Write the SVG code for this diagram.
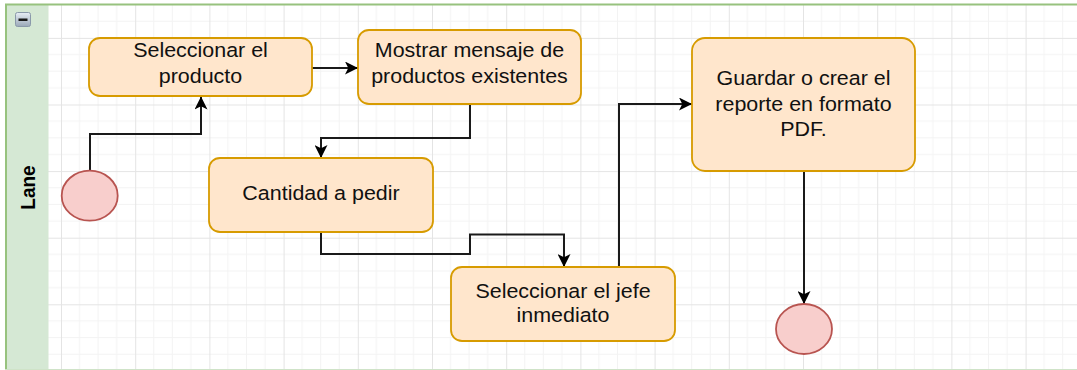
<svg xmlns="http://www.w3.org/2000/svg" width="1077" height="370" viewBox="0 0 1077 370">
<style>
.node{fill:#ffe6cc;stroke:#d79b00;stroke-width:1.8}
.term{fill:#f8cecc;stroke:#b85450;stroke-width:1.8}
.lbl{font-family:"Liberation Sans",Arial,sans-serif;font-size:19.5px;fill:#111;text-anchor:middle}
.edge{fill:none;stroke:#1a1a1a;stroke-width:2}
</style>
<defs>
<pattern id="grid" patternUnits="userSpaceOnUse" x="61" y="37.9" width="74.2" height="66.6">
<g stroke="#f3f3f3" stroke-width="1">
<line x1="18.55" y1="0" x2="18.55" y2="66.6"/>
<line x1="37.1" y1="0" x2="37.1" y2="66.6"/>
<line x1="55.65" y1="0" x2="55.65" y2="66.6"/>
<line x1="0" y1="16.65" x2="74.2" y2="16.65"/>
<line x1="0" y1="33.3" x2="74.2" y2="33.3"/>
<line x1="0" y1="49.95" x2="74.2" y2="49.95"/>
</g>
<g stroke="#e4e4e4" stroke-width="1">
<line x1="0.5" y1="0" x2="0.5" y2="66.6"/>
<line x1="0" y1="0.5" x2="74.2" y2="0.5"/>
</g>
</pattern>
<linearGradient id="btn" x1="0" y1="0" x2="0" y2="1">
<stop offset="0" stop-color="#e8eef5"/>
<stop offset="1" stop-color="#9aa8b8"/>
</linearGradient>
<marker id="arr" viewBox="0 0 12 12" refX="12" refY="6" markerWidth="13" markerHeight="13" markerUnits="userSpaceOnUse" orient="auto">
<path d="M0,0 L12,6 L0,12 L3,6 Z" fill="#000"/>
</marker>
</defs>
<rect x="0" y="0" width="1077" height="370" fill="#ffffff"/>
<g id="lane">
<rect x="48" y="5" width="1029" height="364" fill="url(#grid)"/>
<rect x="5.5" y="4.5" width="43" height="364.5" fill="#d5e8d4"/>
<line x1="5" y1="4.5" x2="1077" y2="4.5" stroke="#97c27e" stroke-width="2"/>
<line x1="6" y1="4" x2="6" y2="370" stroke="#97c27e" stroke-width="2"/>
<line x1="5" y1="369.5" x2="1077" y2="369.5" stroke="#cfe3c8" stroke-width="1"/>
<rect x="15.5" y="12.5" width="15" height="14" rx="2" fill="url(#btn)" stroke="#8a99aa" stroke-width="1"/>
<rect x="18.5" y="18.5" width="9" height="2.5" fill="#1a1a1a"/>
<text transform="translate(34.5,187.5) rotate(-90) scale(1,1.1)" font-family="'Liberation Sans',Arial,sans-serif" font-size="19" font-weight="bold" fill="#000" text-anchor="middle">Lane</text>
</g>
<g id="connectors">
<path class="edge" d="M90,171 V134 H201 V96.5" marker-end="url(#arr)"/>
<path class="edge" d="M312,68 H358" marker-end="url(#arr)"/>
<path class="edge" d="M470,104 V138 H321 V158" marker-end="url(#arr)"/>
<path class="edge" d="M321,232 V254 H470 V234.5 H564 V267" marker-end="url(#arr)"/>
<path class="edge" d="M619,267 V104 H692" marker-end="url(#arr)"/>
<path class="edge" d="M804,171 V304" marker-end="url(#arr)"/>
</g>
<g id="start">
<ellipse class="term" cx="89.7" cy="195.7" rx="28" ry="25"/>
</g>
<g id="n1">
<rect class="node" x="89" y="38" width="223" height="58" rx="11"/>
<text class="lbl" transform="translate(200.5,57) scale(1.1,1)">Seleccionar el</text>
<text class="lbl" transform="translate(200.5,83) scale(1.1,1)">producto</text>
</g>
<g id="n2">
<rect class="node" x="358" y="30" width="223" height="74" rx="11"/>
<text class="lbl" transform="translate(469.5,57) scale(1.1,1)">Mostrar mensaje de</text>
<text class="lbl" transform="translate(469.5,83) scale(1.1,1)">productos existentes</text>
</g>
<g id="n3">
<rect class="node" x="209" y="158" width="224" height="74" rx="11"/>
<text class="lbl" transform="translate(321,200) scale(1.1,1)">Cantidad a pedir</text>
</g>
<g id="n4">
<rect class="node" x="451" y="267" width="224" height="74" rx="11"/>
<text class="lbl" transform="translate(563,298) scale(1.1,1)">Seleccionar el jefe</text>
<text class="lbl" transform="translate(563,322) scale(1.1,1)">inmediato</text>
</g>
<g id="n5">
<rect class="node" x="692" y="38" width="223" height="133" rx="13"/>
<text class="lbl" transform="translate(803.5,85) scale(1.1,1)">Guardar o crear el</text>
<text class="lbl" transform="translate(803.5,111) scale(1.1,1)">reporte en formato</text>
<text class="lbl" transform="translate(803.5,136) scale(1.1,1)">PDF.</text>
</g>
<g id="end">
<ellipse class="term" cx="804" cy="329" rx="28" ry="25"/>
</g>
</svg>
